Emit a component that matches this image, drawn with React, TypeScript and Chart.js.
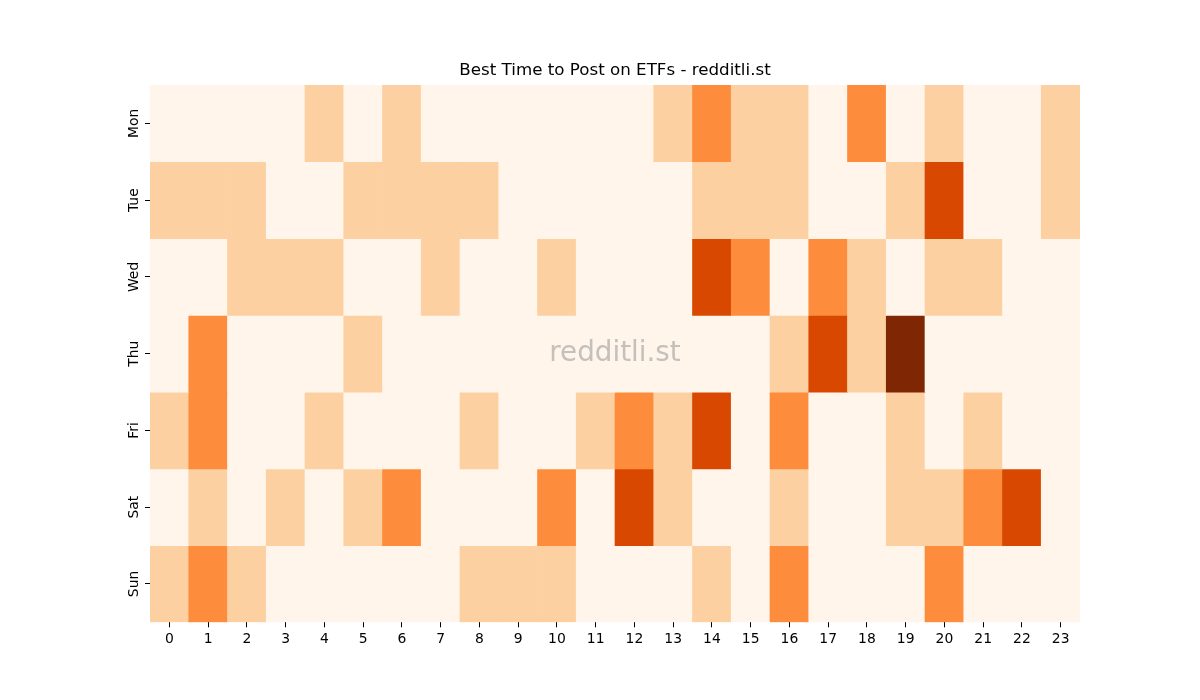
import React, { useEffect, useRef } from "react";
import { Chart, registerables } from "chart.js";

Chart.register(...registerables);

const hours = Array.from({ length: 24 }, (_, i) => String(i));
const days = ["Mon", "Tue", "Wed", "Thu", "Fri", "Sat", "Sun"];

const mon = [0, 0, 0, 0, 1, 0, 1, 0, 0, 0, 0, 0, 0, 1, 2, 1, 1, 0, 2, 0, 1, 0, 0, 1];
const tue = [1, 1, 1, 0, 0, 1, 1, 1, 1, 0, 0, 0, 0, 0, 1, 1, 1, 0, 0, 1, 3, 0, 0, 1];
const wed = [0, 0, 1, 1, 1, 0, 0, 1, 0, 0, 1, 0, 0, 0, 3, 2, 0, 2, 1, 0, 1, 1, 0, 0];
const thu = [0, 2, 0, 0, 0, 1, 0, 0, 0, 0, 0, 0, 0, 0, 0, 0, 1, 3, 1, 4, 0, 0, 0, 0];
const fri = [1, 2, 0, 0, 1, 0, 0, 0, 1, 0, 0, 1, 2, 1, 3, 0, 2, 0, 0, 1, 0, 1, 0, 0];
const sat = [0, 1, 0, 1, 0, 1, 2, 0, 0, 0, 2, 0, 3, 1, 0, 0, 1, 0, 0, 1, 1, 2, 3, 0];
const sun = [1, 2, 1, 0, 0, 0, 0, 0, 1, 1, 1, 0, 0, 0, 1, 0, 2, 0, 0, 0, 2, 0, 0, 0];

const rows = [mon, tue, wed, thu, fri, sat, sun];
const palette = ["#fff5eb", "#fdd0a2", "#fd8d3c", "#d94801", "#7f2704"];

const FONT = "'DejaVu Sans', sans-serif";

const watermark = {
  id: "watermark",
  afterDatasetsDraw(chart: any) {
    const { ctx, chartArea } = chart;
    ctx.save();
    ctx.font = `27.8px ${FONT}`;
    ctx.fillStyle = "rgba(140,140,140,0.5)";
    ctx.textAlign = "center";
    ctx.textBaseline = "middle";
    ctx.fillText("redditli.st", (chartArea.left + chartArea.right) / 2, (chartArea.top + chartArea.bottom) / 2);
    ctx.restore();
  },
};

export default function App() {
  const ref = useRef<HTMLCanvasElement>(null);
  useEffect(() => {
    document.body.style.margin = "0";
    const chart = new Chart(ref.current as HTMLCanvasElement, {
      type: "bar",
      data: {
        labels: hours,
        datasets: rows.map((r, i) => ({
          label: days[i],
          data: r.map(() => 1),
          backgroundColor: r.map((v) => palette[v]),
          borderWidth: 0,
          barPercentage: 1,
          categoryPercentage: 1,
          stack: "s",
        })),
      },
      plugins: [watermark],
      options: {
        animation: false,
        responsive: false,
        maintainAspectRatio: false,
        layout: { padding: { left: 100, right: 120, top: 50, bottom: 48 } },
        plugins: {
          legend: { display: false },
          tooltip: { enabled: false },
          title: {
            display: true,
            fullSize: false,
            text: "Best Time to Post on ETFs - redditli.st",
            color: "#000",
            font: { family: FONT, size: 16.7, weight: "normal" },
            padding: { top: 11, bottom: 4 },
          },
        },
        scales: {
          x: {
            stacked: true,
            offset: true,
            grid: { display: true, drawOnChartArea: false, drawTicks: true, tickLength: 5, color: "#000", offset: false },
            border: { display: false },
            ticks: { color: "#000", font: { family: FONT, size: 13.9 }, padding: 4, autoSkip: false, maxRotation: 0 },
          } as any,
          y: {
            stacked: true,
            reverse: true,
            min: 0,
            max: 7,
            grid: { display: true, drawOnChartArea: false, drawTicks: true, tickLength: 5, color: "#000" },
            border: { display: false },
            afterBuildTicks: (scale: any) => {
              scale.ticks = days.map((_, i) => ({ value: i + 0.5 }));
            },
            afterFit: (scale: any) => {
              scale.width = 50;
            },
            ticks: {
              color: "#000",
              font: { family: FONT, size: 13.9 },
              autoSkip: false,
              minRotation: 90,
              maxRotation: 90,
              crossAlign: "center",
              padding: -5,
              callback: (_v: any, i: number) => days[i],
            },
          } as any,
        },
      },
    });
    return () => chart.destroy();
  }, []);
  return (
    <div style={{ position: "absolute", left: 0, top: 0, width: 1200, height: 700, background: "#fff" }}>
      <canvas ref={ref} width={1200} height={700} style={{ width: 1200, height: 700 }} />
    </div>
  );
}
